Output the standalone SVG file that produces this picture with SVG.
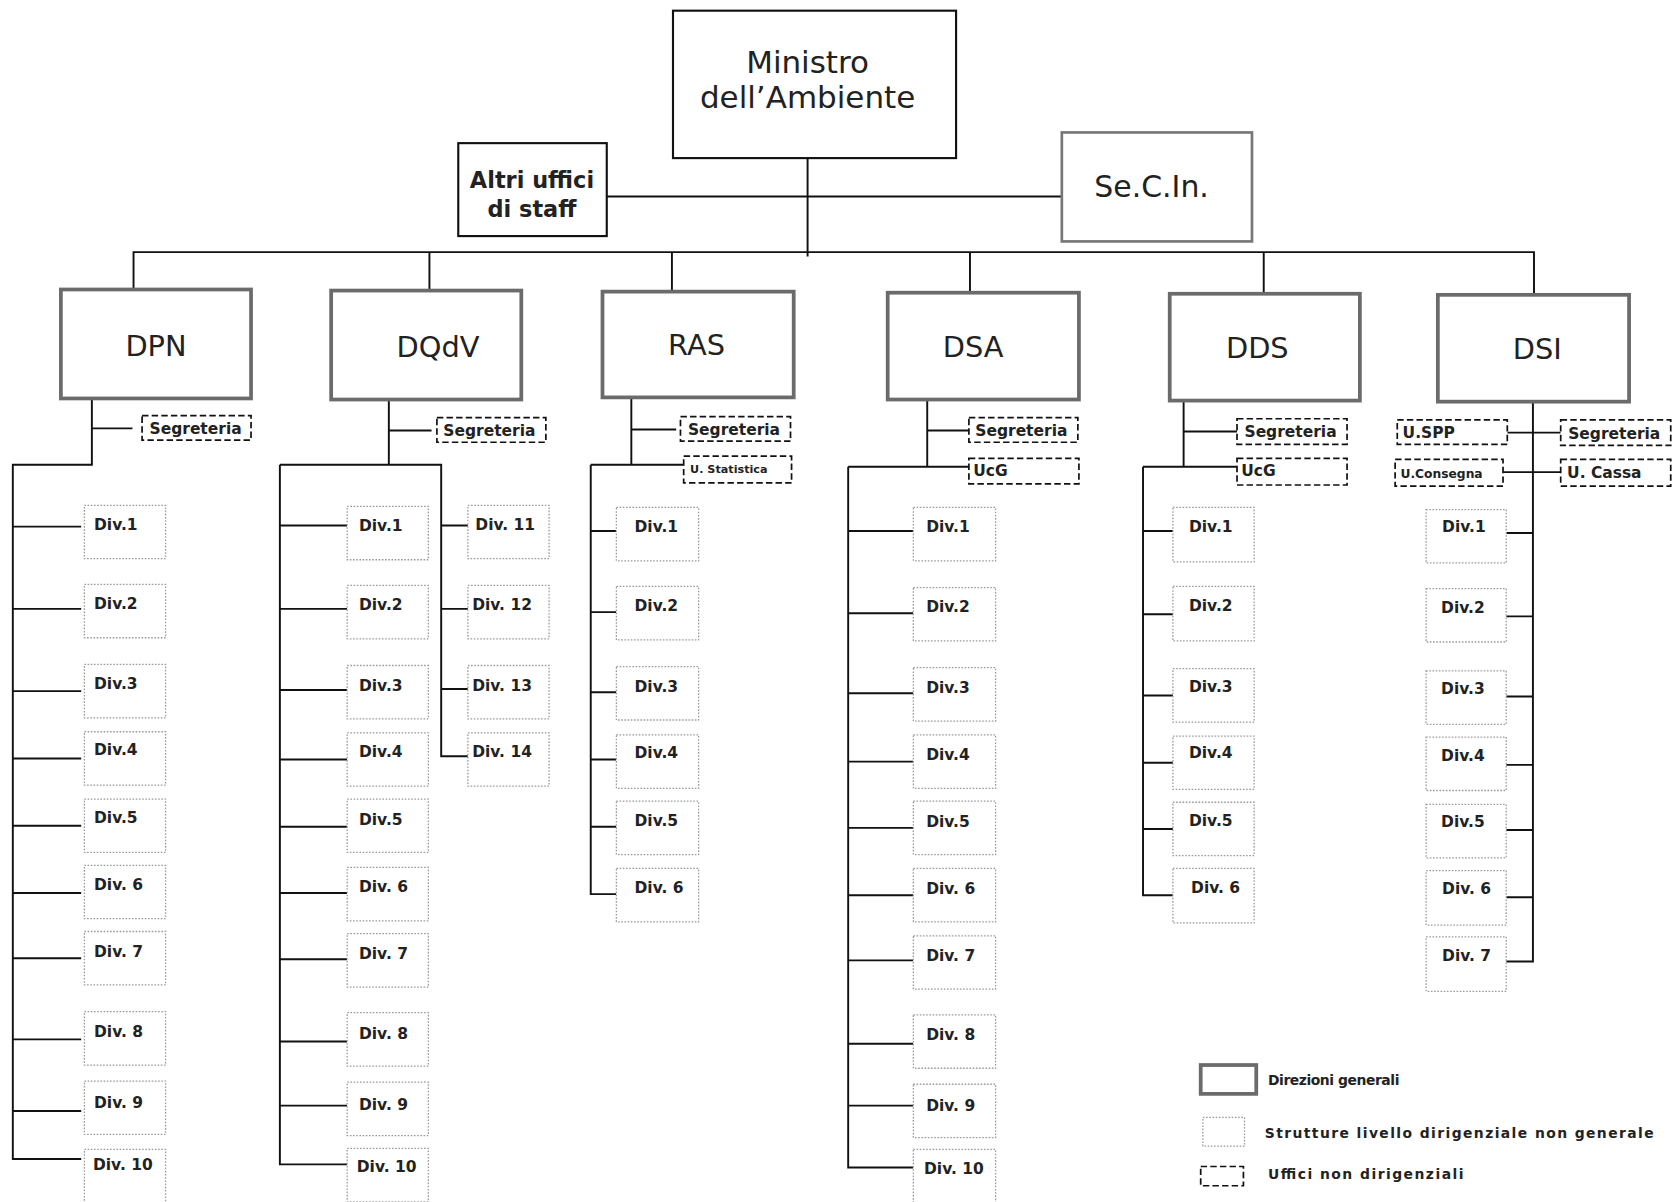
<svg xmlns="http://www.w3.org/2000/svg" width="1675" height="1202" viewBox="0 0 1675 1202">
<defs>
<style>
.top{fill:#fff;stroke:#111;stroke-width:2}
.gen{fill:#fff;stroke:#6b6b6b;stroke-width:3.5}
.sec{fill:#fff;stroke:#777;stroke-width:2.5}
.div{fill:#fff;stroke:#9a9a9a;stroke-width:1.2;stroke-dasharray:1.5 1.5}
.uff{fill:#fff;stroke:#111;stroke-width:1.6;stroke-dasharray:6 3}
.ln{fill:none;stroke:#111;stroke-width:1.8}
.big{font-family:"DejaVu Sans","Verdana",sans-serif;fill:#222;text-anchor:middle}
.dl{font-family:"DejaVu Sans",sans-serif;font-weight:bold;font-size:14.5px;fill:#222}
.ul{font-family:"DejaVu Sans",sans-serif;font-weight:bold;font-size:14.5px;fill:#222}
.us{font-family:"DejaVu Sans",sans-serif;font-weight:bold;font-size:10.5px;fill:#222}
.lg{font-family:"DejaVu Sans",sans-serif;font-weight:bold;font-size:13px;fill:#222}
</style>
</defs>
<rect width="1675" height="1202" fill="#fff"/>
<g transform="scale(1.06824)">
<g id="connectors">
<path class="ln" d="M756,148 V240 M568,184 H994 M125,271 V236 H1436 V276 M402,236 V272 M629,236 V273 M908,236 V274 M1183,236 V275"/>
<path class="ln" d="M86,373 V435 H12 V1085 H76 M86,401 H124 M12,493 H76 M12,570 H76 M12,647 H76 M12,710 H76 M12,773 H76 M12,836 H76 M12,897 H76 M12,973 H76 M12,1040 H76"/>
<path class="ln" d="M364,374 V435 M364,403 H404 M262,435 H413 V708 H438 M262,435 V1090 H325 M262,492 H325 M262,570 H325 M262,646 H325 M262,711 H325 M262,774 H325 M262,836 H325 M262,898 H325 M262,975 H325 M262,1035 H325 M413,492 H438 M413,570 H438 M413,645 H438"/>
<path class="ln" d="M591,372 V435 M591,402 H633 M553,435 H640 M553,435 V837 H577 M553,497 H577 M553,573 H577 M553,648 H577 M553,711 H577 M553,774 H577"/>
<path class="ln" d="M868,374 V437 M868,403 H907 M794,437 H907 M794,437 V1093 H855 M794,497 H855 M794,574 H855 M794,649 H855 M794,713 H855 M794,775 H855 M794,838 H855 M794,899 H855 M794,977 H855 M794,1035 H855"/>
<path class="ln" d="M1108,375 V437 M1108,404 H1158 M1070,437 H1158 M1070,437 V838 H1098 M1070,497 H1098 M1070,575 H1098 M1070,651 H1098 M1070,714 H1098 M1070,776 H1098"/>
<path class="ln" d="M1435,376 V900 H1410 M1411,405 H1461 M1407,442 H1461 M1410,499 H1435 M1410,577 H1435 M1410,652 H1435 M1410,716 H1435 M1410,777 H1435 M1410,840 H1435"/>
</g>
<g id="ministro"><rect class="top" x="630" y="10" width="265" height="138"/><text class="big" font-size="29" x="756" y="68">Ministro</text><text class="big" font-size="29" x="756" y="101">dell’Ambiente</text></g>
<g id="altri-uffici"><rect class="top" x="429" y="134" width="139" height="87"/><text class="big" font-size="21" font-weight="bold" x="498" y="176">Altri uffici</text><text class="big" font-size="21" font-weight="bold" x="498" y="203">di staff</text></g>
<g id="secin"><rect class="sec" x="994" y="124" width="178" height="102"/><text class="big" font-size="28" x="1078" y="184">Se.C.In.</text></g>

<g id="dpn"><rect class="gen" x="57" y="271" width="178" height="102"/><text class="big" font-size="27" x="146" y="333">DPN</text></g>
<g id="dqdv"><rect class="gen" x="310" y="272" width="178" height="102"/><text class="big" font-size="27" x="410" y="334">DQdV</text></g>
<g id="ras"><rect class="gen" x="564" y="273" width="179" height="99"/><text class="big" font-size="27" x="652" y="332">RAS</text></g>
<g id="dsa"><rect class="gen" x="831" y="274" width="179" height="100"/><text class="big" font-size="27" x="911" y="334">DSA</text></g>
<g id="dds"><rect class="gen" x="1095" y="275" width="178" height="100"/><text class="big" font-size="27" x="1177" y="335">DDS</text></g>
<g id="dsi"><rect class="gen" x="1346" y="276" width="179" height="100"/><text class="big" font-size="27" x="1439" y="336">DSI</text></g>

<g id="dpn-segreteria"><rect class="uff" x="133" y="389" width="102" height="23"/><text class="ul" x="140" y="406">Segreteria</text></g>
<g id="dqdv-segreteria"><rect class="uff" x="409" y="391" width="102" height="23"/><text class="ul" x="415" y="408">Segreteria</text></g>
<g id="ras-segreteria"><rect class="uff" x="637" y="390" width="103" height="23"/><text class="ul" x="644" y="407">Segreteria</text></g>
<g id="ras-statistica"><rect class="uff" x="640" y="427" width="101" height="25"/><text class="us" x="646" y="443">U. Statistica</text></g>
<g id="dsa-segreteria"><rect class="uff" x="907" y="391" width="102" height="23"/><text class="ul" x="913" y="408">Segreteria</text></g>
<g id="dsa-ucg"><rect class="uff" x="907" y="429" width="103" height="24"/><text class="ul" x="911" y="446">UcG</text></g>
<g id="dds-segreteria"><rect class="uff" x="1158" y="392" width="103" height="24"/><text class="ul" x="1165" y="409">Segreteria</text></g>
<g id="dds-ucg"><rect class="uff" x="1158" y="429" width="103" height="25"/><text class="ul" x="1162" y="446">UcG</text></g>
<g id="dsi-uspp"><rect class="uff" x="1308" y="393" width="103" height="23"/><text class="ul" x="1313" y="410">U.SPP</text></g>
<g id="dsi-segreteria"><rect class="uff" x="1461" y="393" width="103" height="24"/><text class="ul" x="1468" y="411">Segreteria</text></g>
<g id="dsi-uconsegna"><rect class="uff" x="1306" y="430" width="101" height="25"/><text class="us" style="font-size:11.5px" x="1311" y="447">U.Consegna</text></g>
<g id="dsi-ucassa"><rect class="uff" x="1461" y="430" width="103" height="25"/><text class="ul" x="1467" y="447">U. Cassa</text></g>

<g id="dpn-div1"><rect class="div" x="79" y="473" width="76" height="50"/><text class="dl" x="88" y="496">Div.1</text></g>
<g id="dpn-div2"><rect class="div" x="79" y="547" width="76" height="50"/><text class="dl" x="88" y="570">Div.2</text></g>
<g id="dpn-div3"><rect class="div" x="79" y="622" width="76" height="50"/><text class="dl" x="88" y="645">Div.3</text></g>
<g id="dpn-div4"><rect class="div" x="79" y="685" width="76" height="50"/><text class="dl" x="88" y="707">Div.4</text></g>
<g id="dpn-div5"><rect class="div" x="79" y="748" width="76" height="50"/><text class="dl" x="88" y="770">Div.5</text></g>
<g id="dpn-div6"><rect class="div" x="79" y="810" width="76" height="50"/><text class="dl" x="88" y="833">Div. 6</text></g>
<g id="dpn-div7"><rect class="div" x="79" y="872" width="76" height="50"/><text class="dl" x="88" y="896">Div. 7</text></g>
<g id="dpn-div8"><rect class="div" x="79" y="947" width="76" height="50"/><text class="dl" x="88" y="971">Div. 8</text></g>
<g id="dpn-div9"><rect class="div" x="79" y="1012" width="76" height="50"/><text class="dl" x="88" y="1037">Div. 9</text></g>
<g id="dpn-div10"><rect class="div" x="79" y="1076" width="76" height="50"/><text class="dl" x="87" y="1095">Div. 10</text></g>

<g id="dqdv-div1"><rect class="div" x="325" y="474" width="76" height="50"/><text class="dl" x="336" y="497">Div.1</text></g>
<g id="dqdv-div2"><rect class="div" x="325" y="548" width="76" height="50"/><text class="dl" x="336" y="571">Div.2</text></g>
<g id="dqdv-div3"><rect class="div" x="325" y="623" width="76" height="50"/><text class="dl" x="336" y="647">Div.3</text></g>
<g id="dqdv-div4"><rect class="div" x="325" y="686" width="76" height="50"/><text class="dl" x="336" y="709">Div.4</text></g>
<g id="dqdv-div5"><rect class="div" x="325" y="748" width="76" height="50"/><text class="dl" x="336" y="772">Div.5</text></g>
<g id="dqdv-div6"><rect class="div" x="325" y="812" width="76" height="50"/><text class="dl" x="336" y="835">Div. 6</text></g>
<g id="dqdv-div7"><rect class="div" x="325" y="874" width="76" height="50"/><text class="dl" x="336" y="898">Div. 7</text></g>
<g id="dqdv-div8"><rect class="div" x="325" y="948" width="76" height="50"/><text class="dl" x="336" y="973">Div. 8</text></g>
<g id="dqdv-div9"><rect class="div" x="325" y="1013" width="76" height="50"/><text class="dl" x="336" y="1039">Div. 9</text></g>
<g id="dqdv-div10"><rect class="div" x="325" y="1075" width="76" height="50"/><text class="dl" x="334" y="1097">Div. 10</text></g>
<g id="dqdv-div11"><rect class="div" x="438" y="473" width="76" height="50"/><text class="dl" x="445" y="496">Div. 11</text></g>
<g id="dqdv-div12"><rect class="div" x="438" y="548" width="76" height="50"/><text class="dl" x="442" y="571">Div. 12</text></g>
<g id="dqdv-div13"><rect class="div" x="438" y="623" width="76" height="50"/><text class="dl" x="442" y="647">Div. 13</text></g>
<g id="dqdv-div14"><rect class="div" x="438" y="686" width="76" height="50"/><text class="dl" x="442" y="709">Div. 14</text></g>

<g id="ras-div1"><rect class="div" x="577" y="475" width="77" height="50"/><text class="dl" x="594" y="498">Div.1</text></g>
<g id="ras-div2"><rect class="div" x="577" y="549" width="77" height="50"/><text class="dl" x="594" y="572">Div.2</text></g>
<g id="ras-div3"><rect class="div" x="577" y="624" width="77" height="50"/><text class="dl" x="594" y="648">Div.3</text></g>
<g id="ras-div4"><rect class="div" x="577" y="688" width="77" height="50"/><text class="dl" x="594" y="710">Div.4</text></g>
<g id="ras-div5"><rect class="div" x="577" y="750" width="77" height="50"/><text class="dl" x="594" y="773">Div.5</text></g>
<g id="ras-div6"><rect class="div" x="577" y="813" width="77" height="50"/><text class="dl" x="594" y="836">Div. 6</text></g>

<g id="dsa-div1"><rect class="div" x="855" y="475" width="77" height="50"/><text class="dl" x="867" y="498">Div.1</text></g>
<g id="dsa-div2"><rect class="div" x="855" y="550" width="77" height="50"/><text class="dl" x="867" y="573">Div.2</text></g>
<g id="dsa-div3"><rect class="div" x="855" y="625" width="77" height="50"/><text class="dl" x="867" y="649">Div.3</text></g>
<g id="dsa-div4"><rect class="div" x="855" y="688" width="77" height="50"/><text class="dl" x="867" y="711">Div.4</text></g>
<g id="dsa-div5"><rect class="div" x="855" y="750" width="77" height="50"/><text class="dl" x="867" y="774">Div.5</text></g>
<g id="dsa-div6"><rect class="div" x="855" y="813" width="77" height="50"/><text class="dl" x="867" y="837">Div. 6</text></g>
<g id="dsa-div7"><rect class="div" x="855" y="876" width="77" height="50"/><text class="dl" x="867" y="900">Div. 7</text></g>
<g id="dsa-div8"><rect class="div" x="855" y="950" width="77" height="50"/><text class="dl" x="867" y="974">Div. 8</text></g>
<g id="dsa-div9"><rect class="div" x="855" y="1015" width="77" height="50"/><text class="dl" x="867" y="1040">Div. 9</text></g>
<g id="dsa-div10"><rect class="div" x="855" y="1076" width="77" height="50"/><text class="dl" x="865" y="1099">Div. 10</text></g>

<g id="dds-div1"><rect class="div" x="1098" y="475" width="76" height="51"/><text class="dl" x="1113" y="498">Div.1</text></g>
<g id="dds-div2"><rect class="div" x="1098" y="549" width="76" height="51"/><text class="dl" x="1113" y="572">Div.2</text></g>
<g id="dds-div3"><rect class="div" x="1098" y="626" width="76" height="50"/><text class="dl" x="1113" y="648">Div.3</text></g>
<g id="dds-div4"><rect class="div" x="1098" y="689" width="76" height="50"/><text class="dl" x="1113" y="710">Div.4</text></g>
<g id="dds-div5"><rect class="div" x="1098" y="751" width="76" height="50"/><text class="dl" x="1113" y="773">Div.5</text></g>
<g id="dds-div6"><rect class="div" x="1098" y="813" width="76" height="51"/><text class="dl" x="1115" y="836">Div. 6</text></g>

<g id="dsi-div1"><rect class="div" x="1335" y="477" width="75" height="50"/><text class="dl" x="1350" y="498">Div.1</text></g>
<g id="dsi-div2"><rect class="div" x="1335" y="551" width="75" height="50"/><text class="dl" x="1349" y="574">Div.2</text></g>
<g id="dsi-div3"><rect class="div" x="1335" y="628" width="75" height="50"/><text class="dl" x="1349" y="650">Div.3</text></g>
<g id="dsi-div4"><rect class="div" x="1335" y="690" width="75" height="50"/><text class="dl" x="1349" y="712">Div.4</text></g>
<g id="dsi-div5"><rect class="div" x="1335" y="753" width="75" height="50"/><text class="dl" x="1349" y="774">Div.5</text></g>
<g id="dsi-div6"><rect class="div" x="1335" y="815" width="75" height="51"/><text class="dl" x="1350" y="837">Div. 6</text></g>
<g id="dsi-div7"><rect class="div" x="1335" y="877" width="75" height="51"/><text class="dl" x="1350" y="900">Div. 7</text></g>

<g id="legend">
<rect class="gen" x="1124" y="997" width="52" height="27"/><text class="lg" x="1187" y="1016" textLength="123" lengthAdjust="spacing">Direzioni generali</text>
<rect class="div" x="1126" y="1046" width="39" height="27"/><text class="lg" x="1184" y="1065" textLength="364" lengthAdjust="spacing">Strutture livello dirigenziale non generale</text>
<rect class="uff" x="1124" y="1092" width="40" height="18"/><text class="lg" x="1187" y="1104" textLength="183" lengthAdjust="spacing">Uffici non dirigenziali</text>
</g>
</g>
</svg>
